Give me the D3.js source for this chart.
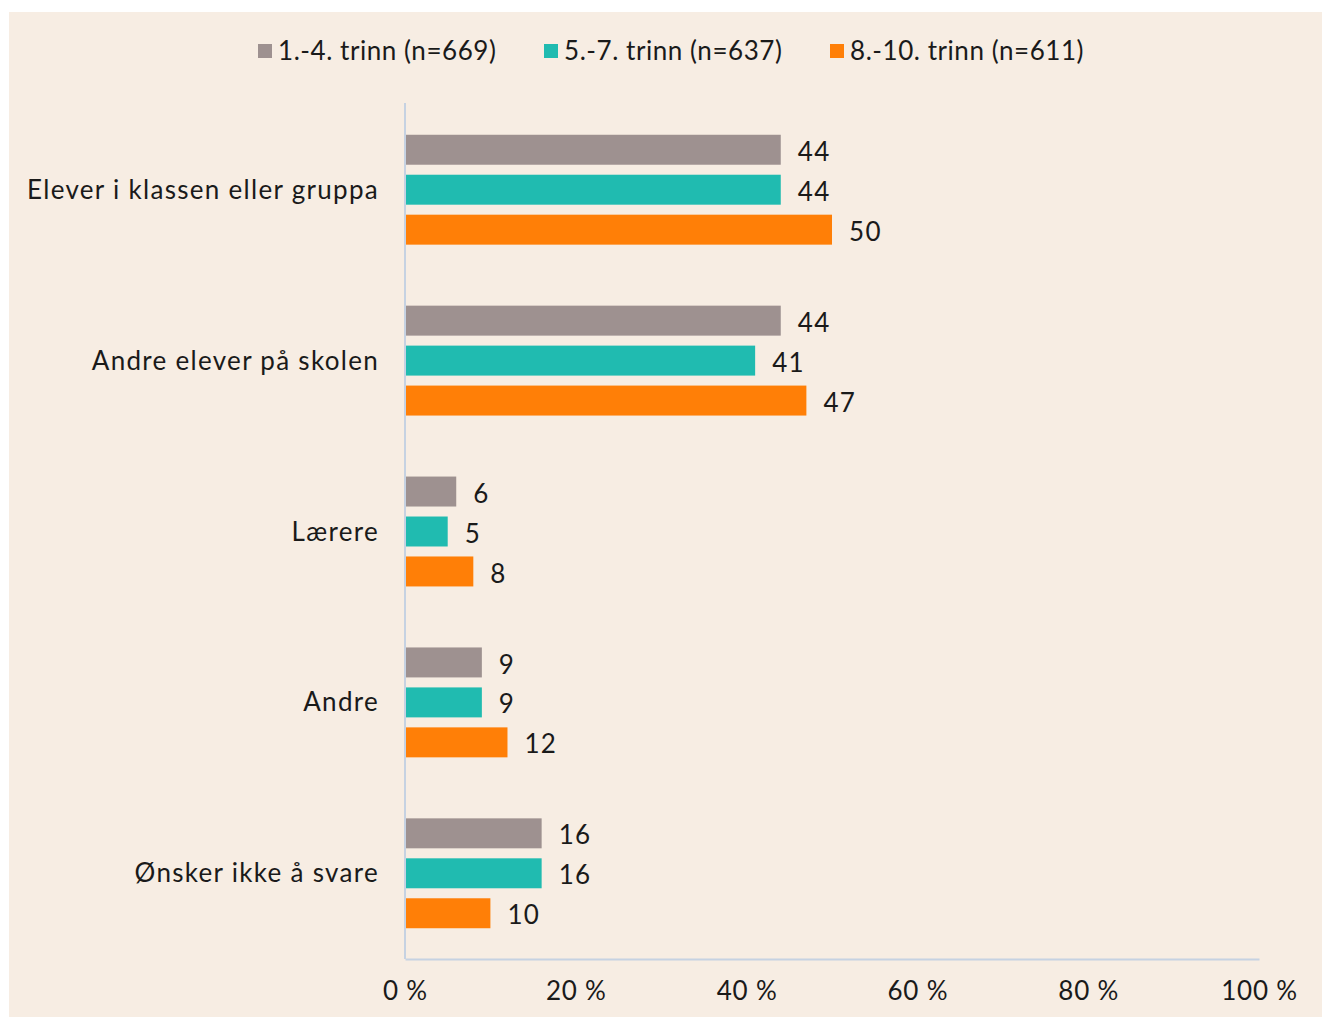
<!DOCTYPE html>
<html>
<head>
<meta charset="utf-8">
<script src="https://cdn.jsdelivr.net/npm/d3@7"></script>
<style>
  body { margin: 0; background: #fff; }
  text { font-family: "Lato", "Open Sans", sans-serif; fill: #1a1a1a; letter-spacing: 1.3px; }
</style>
</head>
<body>
<svg width="1322" height="1018"></svg>
<script>
// data
var categories = ["Elever i klassen eller gruppa", "Andre elever på skolen", "Lærere", "Andre", "Ønsker ikke å svare"];
var seriesNames = ["1.-4. trinn (n=669)", "5.-7. trinn (n=637)", "8.-10. trinn (n=611)"];
var values1to4 = [44, 44, 6, 9, 16];
var values5to7 = [44, 41, 5, 9, 16];
var values8to10 = [50, 47, 8, 12, 10];
var tickValues = [0, 20, 40, 60, 80, 100];
var colors = ["#9E9190", "#20BBB0", "#FF7F07"];

var svg = d3.select("svg"),
    margin = {top: 104, right: 63, bottom: 59, left: 405},
    width = svg.attr("width") - margin.left - margin.right,
    height = svg.attr("height") - margin.top - margin.bottom;

// background panel
svg.append("rect")
    .attr("x", 9).attr("y", 12)
    .attr("width", 1313).attr("height", 1005)
    .attr("fill", "#F7EDE3");

var g = svg.append("g").attr("transform", "translate(" + margin.left + "," + margin.top + ")");

var series = [values1to4, values5to7, values8to10];

var x = d3.scaleLinear().domain([0, 100]).range([0, width]);
var y0 = d3.scaleBand().domain(categories).range([0, height]).paddingInner(0.357).paddingOuter(0.18);
var y1 = d3.scaleBand().domain(d3.range(series.length)).range([0, y0.bandwidth()]).paddingInner(0.25);

// y axis line
g.append("line")
    .attr("x1", 0).attr("x2", 0)
    .attr("y1", -1).attr("y2", height)
    .attr("stroke", "#C6D2E2").attr("stroke-width", 2);

// x axis
var xAxis = g.append("g")
    .attr("transform", "translate(0," + height + ")")
    .call(d3.axisBottom(x).tickValues(tickValues).tickSize(0).tickPadding(23).tickFormat(function(d) { return d + " %"; }));
xAxis.select(".domain").attr("stroke", "#C6D2E2").attr("stroke-width", 2);
xAxis.selectAll("text").style("font-size", "26px").style("letter-spacing", "0.8px").attr("fill", "#1a1a1a");

// category labels
g.selectAll(".cat")
    .data(categories)
    .enter().append("text")
    .attr("class", "cat")
    .attr("x", -26)
    .attr("y", function(d) { return y0(d) + y0.bandwidth() / 2; })
    .attr("dy", "0.35em")
    .attr("text-anchor", "end")
    .style("font-size", "26px")
    .text(function(d) { return d; });

// bars
var groups = g.selectAll(".grp")
    .data(categories)
    .enter().append("g")
    .attr("class", "grp")
    .attr("transform", function(d) { return "translate(0," + y0(d) + ")"; });

groups.selectAll("rect")
    .data(function(d, i) { return series.map(function(s, k) { return {k: k, v: s[i]}; }); })
    .enter().append("rect")
    .attr("x", 1)
    .attr("y", function(d) { return y1(d.k); })
    .attr("height", y1.bandwidth())
    .attr("width", function(d) { return x(d.v) - 1; })
    .attr("fill", function(d) { return colors[d.k]; });

groups.selectAll("text")
    .data(function(d, i) { return series.map(function(s, k) { return {k: k, v: s[i]}; }); })
    .enter().append("text")
    .attr("x", function(d) { return x(d.v) + 17; })
    .attr("y", function(d) { return y1(d.k) + y1.bandwidth() / 2 + 2; })
    .attr("dy", "0.35em")
    .style("font-size", "26px")
    .text(function(d) { return d.v; });

// legend
var legend = svg.append("g").attr("transform", "translate(258,51)");
var legendX = [0, 286, 572];
seriesNames.forEach(function(name, i) {
  var item = legend.append("g").attr("transform", "translate(" + legendX[i] + ",0)");
  item.append("rect").attr("x", 0).attr("y", -7).attr("width", 14).attr("height", 14).attr("fill", colors[i]);
  item.append("text").attr("x", 20).attr("y", 0).attr("dy", "0.35em")
      .style("font-size", "26px").style("letter-spacing", "0.55px").text(name);
});
</script>
</body>
</html>
